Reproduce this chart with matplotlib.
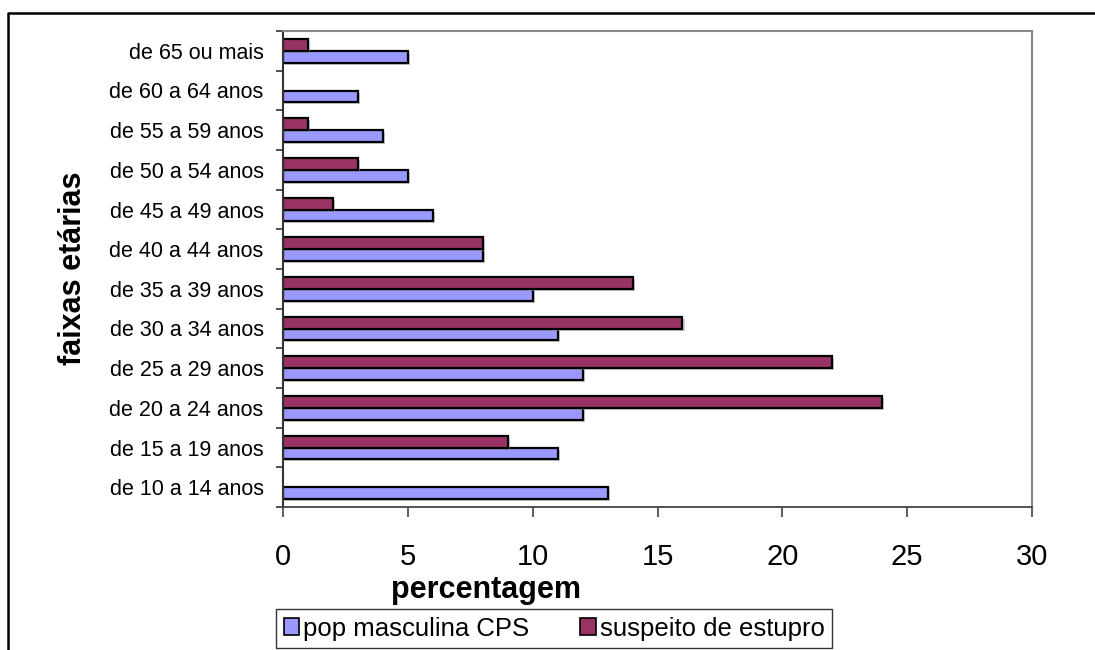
import matplotlib
matplotlib.use('Agg')
import matplotlib.pyplot as plt
import matplotlib.patheffects as pe
from matplotlib.lines import Line2D
from matplotlib.patches import Patch
from matplotlib.ticker import MultipleLocator, FixedLocator
import numpy as np

plt.rcParams['font.family'] = ['Liberation Sans', 'DejaVu Sans']

faixas = ['de 10 a 14 anos', 'de 15 a 19 anos', 'de 20 a 24 anos',
          'de 25 a 29 anos', 'de 30 a 34 anos', 'de 35 a 39 anos',
          'de 40 a 44 anos', 'de 45 a 49 anos', 'de 50 a 54 anos',
          'de 55 a 59 anos', 'de 60 a 64 anos', 'de 65 ou mais']
pop_cps = [13, 11, 12, 12, 11, 10, 8, 6, 5, 4, 3, 5]
suspeito = [0, 9, 24, 22, 16, 14, 8, 2, 3, 1, 0, 1]

cor_pop = '#9999FF'
cor_susp = '#993366'

fig = plt.figure(figsize=(10.95, 6.5), dpi=100)
ax = fig.add_axes([283 / 1095, 1 - 507 / 650, 749 / 1095, 476 / 650])

y = np.arange(len(faixas))
h = 0.3
sombra = [pe.SimplePatchShadow(offset=(1.5, -1.5), shadow_rgbFace='#999999', alpha=0.5), pe.Normal()]
b1 = ax.barh(y - h / 2, pop_cps, height=h, color=cor_pop, edgecolor='black',
             linewidth=1.6)
b2 = ax.barh(y + h / 2, suspeito, height=h, color=cor_susp, edgecolor='black',
             linewidth=1.6)
for bar in list(b1) + list(b2):
    if bar.get_width() > 0:
        bar.set_path_effects(sombra)
    else:
        bar.set_visible(False)

ax.set_xlim(0, 30)
ax.set_ylim(-0.5, len(faixas) - 0.5)
ax.xaxis.set_major_locator(MultipleLocator(5))
ax.set_yticks(y)
ax.set_yticklabels(faixas, fontsize=15.5)
ax.yaxis.set_minor_locator(FixedLocator(np.arange(-0.5, len(faixas), 1.0)))
ax.tick_params(axis='y', which='major', length=0, pad=14)
ax.tick_params(axis='y', which='minor', length=5, width=1.2, color='#333333')
ax.tick_params(axis='x', which='major', length=7, width=1.2, color='#444444',
               labelsize=21, pad=19)

for lado in ['top', 'right']:
    ax.spines[lado].set_color('#888888')
    ax.spines[lado].set_linewidth(1.5)
ax.spines['left'].set_color('#333333')
ax.spines['bottom'].set_color('#444444')
ax.spines['left'].set_linewidth(1.5)
ax.spines['bottom'].set_linewidth(1.3)

fig.text(486 / 1095, 1 - 590 / 650, 'percentagem', fontsize=22, fontweight='bold',
         ha='center', va='center')
fig.text(73 / 1095, 1 - 268 / 650, 'faixas etárias', fontsize=22, fontweight='bold',
         rotation=90, ha='center', va='center')

handles = [Patch(facecolor=cor_pop, edgecolor='black', linewidth=1.2, label='pop masculina CPS'),
           Patch(facecolor=cor_susp, edgecolor='black', linewidth=1.2, label='suspeito de estupro')]
leg = fig.legend(handles=handles, loc='upper left',
                 bbox_to_anchor=(276 / 1095, 1 - 609 / 650), ncol=2,
                 fontsize=18.5, frameon=True, fancybox=False, edgecolor='black',
                 handlelength=0.6, handleheight=0.6, handletextpad=0.15,
                 columnspacing=2.0, borderpad=0.3, borderaxespad=0)
leg.get_frame().set_linewidth(1.0)

# moldura externa
fig.add_artist(Line2D([8 / 1095, 8 / 1095, 1.0], [0.0, 1 - 13 / 650, 1 - 13 / 650],
                      transform=fig.transFigure, color='black', linewidth=1.8))

fig.savefig('out.png', dpi=100)
